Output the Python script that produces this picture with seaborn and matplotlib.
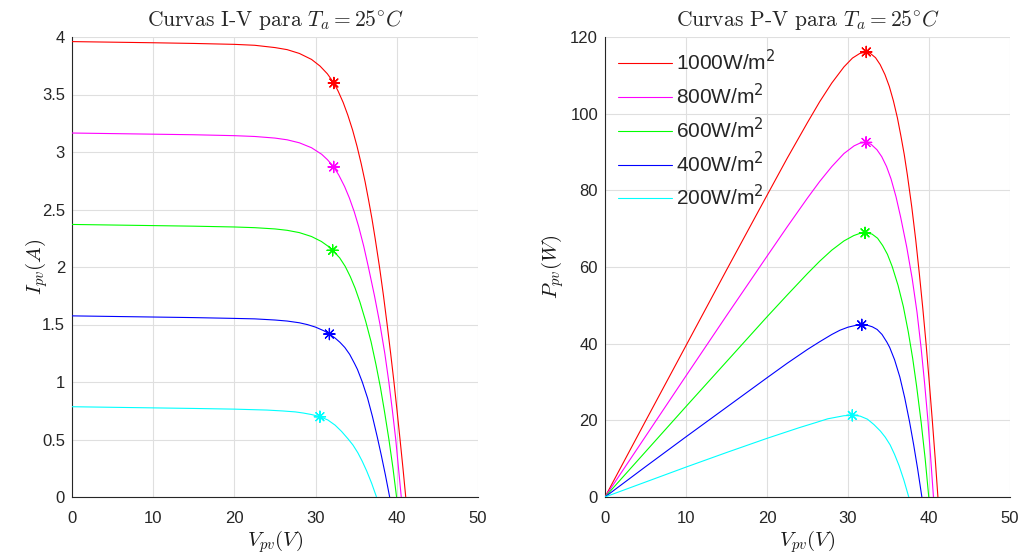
import numpy as np
import pandas as pd
import matplotlib
matplotlib.use("Agg")
import matplotlib.pyplot as plt
import seaborn as sns
from matplotlib.font_manager import FontProperties
from matplotlib.lines import Line2D

# ---------------- data ----------------
labels = ["1000W/m$^2$", "800W/m$^2$", "600W/m$^2$", "400W/m$^2$", "200W/m$^2$"]
colors = ["#ff0000", "#ff00ff", "#00ff00", "#0000ff", "#00ffff"]

V_1000 = [0, 5, 10, 15, 20, 22.5, 25, 26.5, 28, 29.5, 30.55, 31.45, 32.25, 32.77, 33.40, 33.97, 34.56,
          35.10, 35.61, 36.10, 36.53, 36.94, 37.33, 37.87, 38.36, 38.81, 39.24, 39.65, 40.03, 40.40,
          40.76, 41.1]
I_1000 = [3.96, 3.955, 3.95, 3.944, 3.936, 3.928, 3.908, 3.89, 3.857, 3.805, 3.747, 3.68, 3.60, 3.53,
          3.43, 3.32, 3.19, 3.05, 2.90, 2.74, 2.58, 2.42, 2.25, 2.00, 1.75, 1.50, 1.25, 1.00, 0.75,
          0.50, 0.25, 0]
P_1000 = [0, 19.8, 39.5, 59.2, 78.7, 88.4, 97.7, 103.1, 108.0, 112.2, 114.5, 115.7, 116.1, 115.7,
          114.6, 112.8, 110.2, 107.1, 103.3, 98.9, 94.2, 89.4, 84.0, 75.7, 67.1, 58.2, 49.1, 39.7,
          30.0, 20.2, 10.2, 0]

V_800 = [0, 5, 10, 15, 20, 22.5, 25, 26.5, 28, 29.5, 30.75, 31.46, 32.23, 32.85, 33.57, 34.16, 34.76,
         35.31, 35.93, 36.5, 37.25, 37.93, 38.52, 39.02, 39.46, 39.87, 40.21, 40.55]
I_800 = [3.165, 3.16, 3.155, 3.15, 3.142, 3.135, 3.121, 3.106, 3.080, 3.037, 2.98, 2.933, 2.87, 2.80,
         2.70, 2.60, 2.48, 2.35, 2.18, 2.00, 1.75, 1.50, 1.25, 1.00, 0.75, 0.50, 0.25, 0]
P_800 = [0, 15.8, 31.6, 47.3, 62.8, 70.5, 78.0, 82.3, 86.2, 89.6, 91.6, 92.3, 92.5, 92.0, 90.6, 88.8,
         86.2, 83.0, 78.3, 73.0, 65.2, 56.9, 48.2, 39.0, 29.6, 19.9, 10.1, 0]

V_600 = [0, 5, 10, 15, 20, 22.5, 25, 26.5, 28, 29.5, 30.71, 31.51, 32.1, 32.96, 33.65, 34.28, 34.87,
         35.46, 36.18, 36.83, 37.44, 37.99, 38.47, 39.03, 39.53, 39.97]
I_600 = [2.37, 2.365, 2.36, 2.355, 2.348, 2.342, 2.331, 2.319, 2.299, 2.265, 2.222, 2.182, 2.145, 2.08,
         2.005, 1.915, 1.815, 1.695, 1.525, 1.35, 1.15, 0.95, 0.75, 0.50, 0.25, 0]
P_600 = [0, 11.8, 23.6, 35.3, 47.0, 52.7, 58.3, 61.5, 64.4, 66.8, 68.2, 68.8, 68.9, 68.6, 67.5, 65.6,
         63.3, 60.1, 55.2, 49.7, 43.1, 36.1, 28.9, 19.5, 9.9, 0]

V_400 = [0, 5, 10, 15, 20, 22.5, 25, 26.5, 28, 29, 30, 31, 31.7, 32.4, 33.0, 33.6, 34.2, 34.8, 35.15,
         35.75, 36.4, 37.0, 37.6, 38.1, 38.6, 39.12]
I_400 = [1.575, 1.57, 1.565, 1.56, 1.553, 1.549, 1.539, 1.530, 1.515, 1.499, 1.477, 1.446, 1.417, 1.382,
         1.345, 1.30, 1.24, 1.16, 1.11, 1.0, 0.86, 0.70, 0.52, 0.36, 0.19, 0]
P_400 = [0, 7.9, 15.7, 23.4, 31.1, 34.9, 38.5, 40.5, 42.4, 43.5, 44.3, 44.8, 44.9, 44.8, 44.4, 43.7,
         42.4, 40.4, 39.0, 35.8, 31.3, 25.9, 19.6, 13.7, 7.3, 0]

V_200 = [0, 5, 10, 15, 20, 24, 26, 27.5, 28.5, 29.5, 30.53, 31.5, 32.4, 33.2, 34.0, 34.6, 35.2, 35.75,
         36.3, 36.9, 37.5]
I_200 = [0.785, 0.78, 0.775, 0.77, 0.764, 0.756, 0.748, 0.740, 0.730, 0.717, 0.698, 0.67, 0.625, 0.57,
         0.505, 0.452, 0.385, 0.31, 0.225, 0.12, 0]
P_200 = [0, 3.9, 7.8, 11.6, 15.3, 18.1, 19.4, 20.4, 20.8, 21.2, 21.3, 21.1, 20.3, 18.9, 17.2, 15.6,
         13.6, 11.1, 8.2, 4.4, 0]

# maximum power points
V_mpp = [32.25, 32.23, 32.1, 31.7, 30.53]
I_mpp = [3.60, 2.87, 2.145, 1.417, 0.698]
P_mpp = [116.1, 92.5, 68.9, 44.9, 21.3]

x_ticks = [0, 10, 20, 30, 40, 50]
i_ticks = [0, 0.5, 1, 1.5, 2, 2.5, 3, 3.5, 4]
p_ticks = [0, 20, 40, 60, 80, 100, 120]

# ---------------- frames ----------------
curves = [(V_1000, I_1000, P_1000), (V_800, I_800, P_800), (V_600, I_600, P_600),
          (V_400, I_400, P_400), (V_200, I_200, P_200)]
frames = []
for lab, (v, i, p) in zip(labels, curves):
    frames.append(pd.DataFrame({"V": v, "I": i, "P": p, "G": lab}))
df = pd.concat(frames, ignore_index=True)
mpp = pd.DataFrame({"V": V_mpp, "I": I_mpp, "P": P_mpp, "G": labels})
pal = dict(zip(labels, colors))

# ---------------- style ----------------
sns.set_style("white")
plt.rcParams["font.family"] = ["Liberation Sans", "DejaVu Sans"]
plt.rcParams["mathtext.fontset"] = "cm"

fig = plt.figure(figsize=(10.25, 5.56), dpi=100)
W, H = 1025, 556
ax1 = fig.add_axes([72 / W, 1 - 497 / H, 406 / W, 460 / H])
ax2 = fig.add_axes([605 / W, 1 - 497 / H, 405 / W, 460 / H])

ast = (8, 2, 0)
LW = 0.8
for ax, ycol in [(ax1, "I"), (ax2, "P")]:
    sns.lineplot(data=df, x="V", y=ycol, hue="G", hue_order=labels, palette=pal,
                 sort=False, estimator=None, linewidth=LW, ax=ax, legend=False, zorder=3)
    sns.scatterplot(data=mpp, x="V", y=ycol, hue="G", hue_order=labels, palette=pal,
                    marker=ast, s=65, linewidth=0.9, ax=ax, legend=False, zorder=4)

def style(ax, yticks, ylim):
    ax.set_xlim(0, 50)
    ax.set_ylim(*ylim)
    ax.set_xticks(x_ticks)
    ax.set_xticklabels([f"{t:g}" for t in x_ticks])
    ax.set_yticks(yticks)
    ax.set_yticklabels([f"{t:g}" for t in yticks])
    ax.grid(True, color="#dfdfdf", linewidth=0.8)
    ax.set_axisbelow(True)
    for s in ["top", "right"]:
        ax.spines[s].set_visible(False)
    for s in ["left", "bottom"]:
        ax.spines[s].set_color("#262626")
        ax.spines[s].set_linewidth(0.8)
    ax.tick_params(direction="in", length=4, width=0.8, color="#262626",
                   labelcolor="#262626", labelsize=12)
    ax.tick_params(axis="x", pad=10)
    ax.tick_params(axis="y", pad=5)
    ax.set_xlabel(r"$V_{pv}(V)$", fontsize=15, color="#1a1a1a", labelpad=2)

style(ax1, i_ticks, (0, 4))
style(ax2, p_ticks, (0, 120))
ax1.set_ylabel(r"$I_{pv}(A)$", fontsize=15, color="#1a1a1a", labelpad=-6)
ax2.set_ylabel(r"$P_{pv}(W)$", fontsize=15, color="#1a1a1a", labelpad=3)
ax1.set_title(r"Curvas I-V para $T_a = 25^{\circ}C$", fontfamily="cmr10", fontsize=15.5, pad=8)
ax2.set_title(r"Curvas P-V para $T_a = 25^{\circ}C$", fontfamily="cmr10", fontsize=15.5, pad=8)

handles = [Line2D([], [], color=c, linewidth=LW) for c in colors]
prop = FontProperties(family="Liberation Sans", size=15, math_fontfamily="dejavusans")
ax2.legend(handles, labels, loc="upper left", bbox_to_anchor=(0.0, 1.0), frameon=False,
           prop=prop, handlelength=2.6, handletextpad=0.2, labelspacing=0.41,
           borderaxespad=0.3, borderpad=0.3)

fig.savefig("out.png", dpi=100)
